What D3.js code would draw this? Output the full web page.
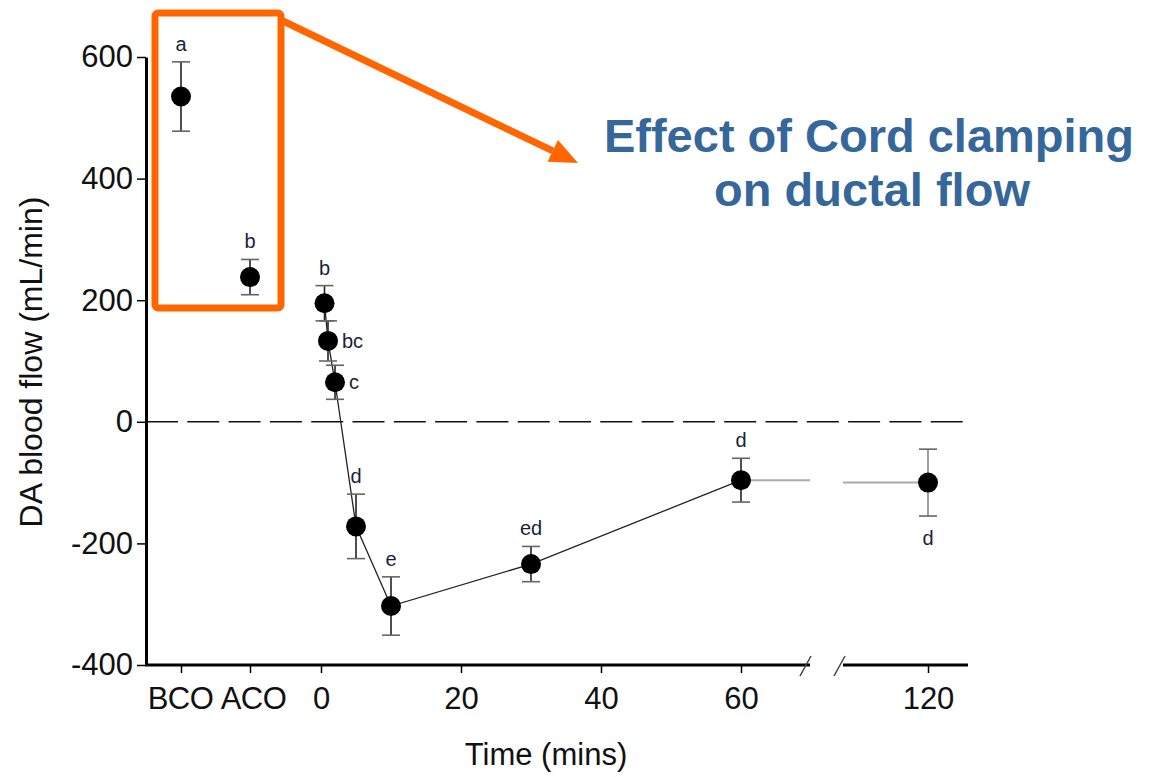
<!DOCTYPE html>
<html>
<head>
<meta charset="utf-8">
<script src="https://cdn.jsdelivr.net/npm/d3@7"></script>
<style>
  body { margin: 0; background: #fff; }
  svg { display: block; font-family: "Liberation Sans", Arial, sans-serif; }
</style>
</head>
<body>
<svg width="1157" height="777"></svg>
<script>
// data (mL/min, mean and error)
const groups = ["BCO", "ACO"];
const groupFlow = [535, 238];
const groupErr = [57, 29];
const groupLetters = ["a", "b"];

const times = [0.5, 1, 2, 5, 10, 30, 60];
const timeFlow = [195, 133, 65, -172, -303, -234, -96];
const timeErr = [29, 33, 28, 53, 48, 29, 36];
const timeLetters = ["b", "bc", "c", "d", "e", "ed", "d"];

const lateTimes = [120];
const lateFlow = [-100];
const lateErr = [55];
const lateLetters = ["d"];

const yTicks = [-400, -200, 0, 200, 400, 600];
const timeTicks = [0, 20, 40, 60];

// where each letter goes relative to its point
const timeLetterSide = ["above", "right", "right", "above", "above", "above", "above"];

svg = d3.select("svg");

yScale = d3.scaleLinear()
  .domain([-400, 600])
  .range([665, 57]);

xGroup = d3.scalePoint()
  .domain(groups)
  .range([181, 250]);

xTime = d3.scaleLinear()
  .domain([0, 60])
  .range([321, 741]);

xLate = d3.scaleLinear()
  .domain([110, 130])
  .range([858, 998]);

// zero reference line
svg.append("line")
  .attr("x1", 146).attr("x2", 963)
  .attr("y1", yScale(0)).attr("y2", yScale(0))
  .attr("stroke", "#111")
  .attr("stroke-width", 1.6)
  .attr("stroke-dasharray", "32,9.3");

// y axis (plain hyphen for negatives, as in the figure)
yAxis = d3.axisLeft(yScale)
  .tickValues(yTicks)
  .tickFormat(function (d) { return String(d) })
  .tickSize(9)
  .tickSizeOuter(0)
  .tickPadding(4);

yAxisG = svg.append("g")
  .attr("transform", "translate(146,0)")
  .call(yAxis);
yAxisG.select(".domain").attr("stroke-width", 3);
yAxisG.selectAll(".tick line").attr("stroke-width", 1.5);
yAxisG.selectAll("text")
  .attr("font-size", 31)
  .attr("fill", "#111")
  .attr("font-family", "Liberation Sans, Arial, sans-serif");

// x axes (broken)
function styleX(g) {
  g.select(".domain").remove();
  g.selectAll(".tick line").attr("stroke-width", 1.5);
  g.selectAll("text")
    .attr("font-size", 31)
    .attr("fill", "#111")
    .attr("font-family", "Liberation Sans, Arial, sans-serif");
}

svg.append("g")
  .attr("transform", "translate(0,665)")
  .call(d3.axisBottom(xGroup).tickSize(8).tickPadding(14))
  .call(styleX)
  .selectAll(".tick text")
  .attr("dx", function (d) { return d == "ACO" ? 3 : -1 })
  .attr("letter-spacing", -0.5);

svg.append("g")
  .attr("transform", "translate(0,665)")
  .call(d3.axisBottom(xTime).tickValues(timeTicks).tickSize(8).tickPadding(14))
  .call(styleX);

svg.append("g")
  .attr("transform", "translate(0,665)")
  .call(d3.axisBottom(xLate).tickValues(lateTimes).tickSize(8).tickPadding(14))
  .call(styleX);

// axis line segments and break marks
svg.append("line")
  .attr("x1", 145).attr("x2", 810)
  .attr("y1", 665).attr("y2", 665)
  .attr("stroke", "#000").attr("stroke-width", 3);
svg.append("line")
  .attr("x1", 843).attr("x2", 968)
  .attr("y1", 665).attr("y2", 665)
  .attr("stroke", "#000").attr("stroke-width", 3);
[806, 840].forEach(function (bx) {
  svg.append("line")
    .attr("x1", bx - 6).attr("y1", 676)
    .attr("x2", bx + 5).attr("y2", 656)
    .attr("stroke", "#444").attr("stroke-width", 1.5);
});

// axis titles
svg.append("text")
  .attr("x", 546).attr("y", 765)
  .attr("text-anchor", "middle")
  .attr("font-size", 31)
  .attr("fill", "#111")
  .text("Time (mins)");

svg.append("text")
  .attr("transform", "translate(42,362) rotate(-90)")
  .attr("text-anchor", "middle")
  .attr("font-size", 32)
  .attr("fill", "#111")
  .text("DA blood flow (mL/min)");

// build point table
points = [];
groups.forEach(function (g, i) {
  points.push({ x: xGroup(g), v: groupFlow[i], e: groupErr[i], lab: groupLetters[i], side: "above" });
});
times.forEach(function (t, i) {
  points.push({ x: xTime(t), v: timeFlow[i], e: timeErr[i], lab: timeLetters[i], side: timeLetterSide[i], line: true });
});
lateTimes.forEach(function (t, i) {
  points.push({ x: xLate(t), v: lateFlow[i], e: lateErr[i], lab: lateLetters[i], side: "below", late: true });
});

// time course line
timeLine = d3.line()
  .x(function (d, i) { return xTime(times[i]) })
  .y(function (d) { return yScale(d) });

svg.append("path")
  .attr("d", timeLine(timeFlow))
  .attr("fill", "none")
  .attr("stroke", "#222")
  .attr("stroke-width", 1.3);

// grey continuation across the break
last = timeFlow.length - 1;
svg.append("line")
  .attr("x1", xTime(times[last])).attr("x2", 810)
  .attr("y1", yScale(timeFlow[last])).attr("y2", yScale(timeFlow[last]))
  .attr("stroke", "#aaa").attr("stroke-width", 2);
svg.append("line")
  .attr("x1", 843).attr("x2", xLate(lateTimes[0]))
  .attr("y1", yScale(lateFlow[0])).attr("y2", yScale(lateFlow[0]))
  .attr("stroke", "#aaa").attr("stroke-width", 2);

// error bars
bars = svg.append("g").selectAll("g")
  .data(points)
  .join("g");

bars.append("line")
  .attr("x1", function (d) { return d.x })
  .attr("x2", function (d) { return d.x })
  .attr("y1", function (d) { return yScale(d.v + d.e) })
  .attr("y2", function (d) { return yScale(d.v - d.e) })
  .attr("stroke", function (d) { return d.late ? "#888" : "#222" })
  .attr("stroke-width", 1.6);

[1, -1].forEach(function (s) {
  bars.append("line")
    .attr("x1", function (d) { return d.x - 9 })
    .attr("x2", function (d) { return d.x + 9 })
    .attr("y1", function (d) { return yScale(d.v + s * d.e) })
    .attr("y2", function (d) { return yScale(d.v + s * d.e) })
    .attr("stroke", "#666")
    .attr("stroke-width", 1.6);
});

bars.append("circle")
  .attr("cx", function (d) { return d.x })
  .attr("cy", function (d) { return yScale(d.v) })
  .attr("r", 10)
  .attr("fill", "#000");

// significance letters
bars.append("text")
  .attr("x", function (d) { return d.side == "right" ? d.x + 14 : d.x })
  .attr("y", function (d) {
    if (d.side == "above") return yScale(d.v + d.e) - 11;
    if (d.side == "below") return yScale(d.v - d.e) + 29;
    return yScale(d.v) + 7;
  })
  .attr("text-anchor", function (d) { return d.side == "right" ? "start" : "middle" })
  .attr("font-size", 20)
  .attr("fill", "#1c1f3a")
  .text(function (d) { return d.lab });

// orange highlight box and arrow
orange = "#ff6600";
svg.append("rect")
  .attr("x", 155).attr("y", 13)
  .attr("width", 126).attr("height", 295)
  .attr("rx", 3)
  .attr("fill", "none")
  .attr("stroke", orange)
  .attr("stroke-width", 7);

tip = [578, 163];
start = [283, 21];
dx = tip[0] - start[0];
dy = tip[1] - start[1];
len = Math.sqrt(dx * dx + dy * dy);
ux = dx / len; uy = dy / len;
base = [tip[0] - 28 * ux, tip[1] - 28 * uy];

svg.append("line")
  .attr("x1", start[0]).attr("y1", start[1])
  .attr("x2", base[0]).attr("y2", base[1])
  .attr("stroke", orange)
  .attr("stroke-width", 7);

svg.append("path")
  .attr("d", d3.line()([
    tip,
    [base[0] - 12 * uy, base[1] + 12 * ux],
    [base[0] + 12 * uy, base[1] - 12 * ux]
  ]) + "Z")
  .attr("fill", orange);

// annotation
note = svg.append("text")
  .attr("text-anchor", "middle")
  .attr("font-size", 47)
  .attr("font-weight", "bold")
  .attr("fill", "#36679b");
note.append("tspan").attr("x", 869).attr("y", 152).text("Effect of Cord clamping");
note.append("tspan").attr("x", 872).attr("y", 206).text("on ductal flow");
</script>
</body>
</html>
